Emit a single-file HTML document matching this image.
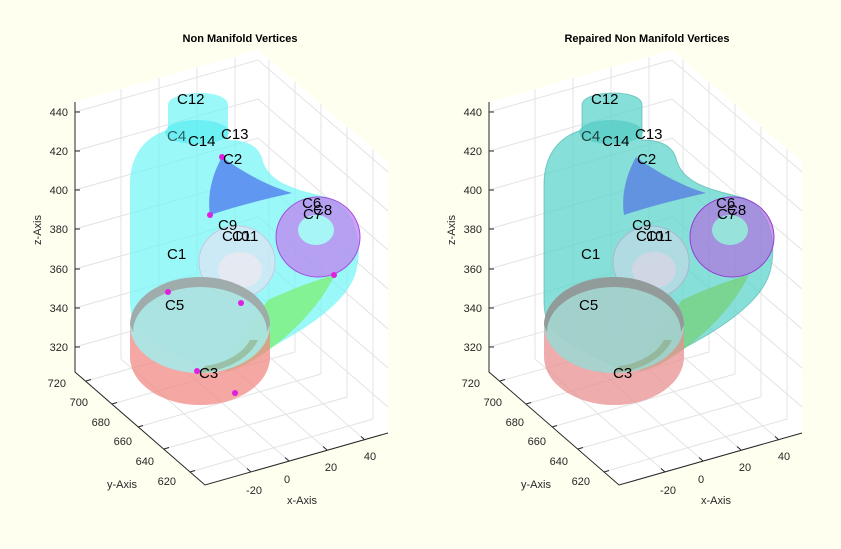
<!DOCTYPE html>
<html><head><meta charset="utf-8"><style>
body{margin:0;background:#fffff0;}
svg{display:block;font-family:"Liberation Sans",sans-serif;}
.t{font-size:11px;fill:#262626;}
.lab{font-size:15px;fill:#000;}
</style></head><body>
<svg width="841" height="549" viewBox="0 0 841 549">
<defs>
<g id="axes">
<polygon points="75,102 258,50 388,162 388,433 205,485 75,372" fill="#fff"/>
<g stroke="#e3e3e3" stroke-width="1" fill="none">
<path d="M75,112 L258,60 L388,172 M75,151 L258,99 L388,211 M75,190 L258,138 L388,250 M75,229 L258,177 L388,289 M75,269 L258,217 L388,329 M75,308 L258,256 L388,368 M75,347 L258,295 L388,407"/>
<path d="M121,89 L121,359 M159,78 L159,348 M197,67 L197,337 M235,57 L235,327"/>
<path d="M269,60 L269,330 M295,82 L295,352 M321,104 L321,374 M347,127 L347,397 M373,149 L373,419"/>
<path d="M251,472 L121,359 M289,461 L159,348 M327,450 L197,337 M365,440 L235,327"/>
<path d="M86,381 L269,330 M112,404 L295,352 M138,427 L321,374 M164,449 L347,397 M190,472 L373,419"/>
</g>
<g stroke="#262626" stroke-width="1" fill="none">
<path d="M75,102 L75,372 L205,485 L388,433"/>
<path d="M75,112h5M75,151h5M75,190h5M75,229h5M75,269h5M75,308h5M75,347h5"/>
<path d="M86,381l5,-1.5M112,404l5,-1.5M138,427l5,-1.5M164,449l5,-1.5M190,472l5,-1.5"/>
<path d="M251,472l-4,-3.5M289,461l-4,-3.5M327,450l-4,-3.5M365,440l-4,-3.5"/>
</g>
<g class="t" text-anchor="end">
<text x="68" y="116">440</text><text x="68" y="155">420</text><text x="68" y="194">400</text><text x="68" y="233">380</text><text x="68" y="273">360</text><text x="68" y="312">340</text><text x="68" y="351">320</text>
<text x="66" y="387">720</text><text x="88" y="406">700</text><text x="110" y="426">680</text><text x="132" y="445">660</text><text x="154" y="465">640</text><text x="176" y="485">620</text>
</g>
<g class="t" text-anchor="middle">
<text x="254" y="494">-20</text><text x="287" y="483">0</text><text x="331" y="471">20</text><text x="370" y="460">40</text>
<text x="122" y="488">y-Axis</text><text x="302" y="504">x-Axis</text>
<text transform="translate(41,230) rotate(-90)">z-Axis</text>
</g>
</g>
</defs>

<use href="#axes"/>
<use href="#axes" x="414"/>

<text x="240" y="42" text-anchor="middle" style="font-size:11px;font-weight:bold">Non Manifold Vertices</text>
<text x="647" y="42" text-anchor="middle" style="font-size:11px;font-weight:bold">Repaired Non Manifold Vertices</text>

<!-- LEFT PLOT shapes -->
<g>
<path d="M130,185 C130,150 150,135 168,130 L168,105 C168,90 228,88 228,105 L228,140 C245,140 258,145 262,158 C268,185 300,190 330,198 C362,212 362,255 355,275 C345,305 300,333 262,352 C240,362 220,372 210,372 L150,340 C135,330 130,320 130,300 Z" fill="#6ff5f7" fill-opacity="0.7"/>
<ellipse cx="197" cy="132" rx="32" ry="12" fill="#3ee8ee" fill-opacity="0.5"/>
<path d="M222,157 C212,175 207,195 210,215 C240,205 270,198 292,193 C265,185 240,170 222,157 Z" fill="#5a8cf0" fill-opacity="0.9"/>
<path d="M335,275 C320,305 290,340 245,365 L225,372 C235,340 260,312 268,300 C290,290 315,280 335,275 Z" fill="#7df07a" fill-opacity="0.8"/>
<ellipse cx="237" cy="262" rx="38" ry="36" fill="#e6e2f2" fill-opacity="0.65" stroke="#c8c8e0"/>
<ellipse cx="240" cy="270" rx="22" ry="18" fill="#f0e8f0" fill-opacity="0.7"/>
<ellipse cx="318" cy="237" rx="42" ry="40" fill="#c07af0" fill-opacity="0.7" stroke="#a050e0"/>
<ellipse cx="316" cy="230" rx="18" ry="15" fill="#a8f5f5"/>
<path d="M130,355 L130,325 A70,48 0 0 1 270,325 L270,357 A70,48 0 0 1 130,357 Z" fill="#f28a86" fill-opacity="0.75"/>
<ellipse cx="200" cy="325" rx="70" ry="48" fill="#9ef3f0" fill-opacity="0.8"/>
<path d="M130,325 A70,48 0 0 1 270,325 L267,332 A67,45 0 0 0 133,332 Z" fill="#9a9494" fill-opacity="0.7"/>
<path d="M258,340 A70,48 0 0 1 200,373 L205,366 A60,40 0 0 0 250,340 Z" fill="#8aa070" fill-opacity="0.5"/>
<g fill="#e020e0">
<circle cx="222" cy="157" r="3"/><circle cx="210" cy="215" r="3"/><circle cx="334" cy="275" r="3"/><circle cx="241" cy="303" r="3"/><circle cx="168" cy="292" r="3"/><circle cx="197" cy="371" r="3"/><circle cx="235" cy="393" r="3"/>
</g>
<g class="lab">
<text x="177" y="104">C12</text><text x="167" y="141" fill-opacity="0.6">C4</text><text x="188" y="146">C14</text><text x="221" y="139">C13</text><text x="223" y="164">C2</text>
<text x="302" y="208">C6</text><text x="313" y="215">C8</text><text x="303" y="219">C7</text>
<text x="218" y="230">C9</text><text x="222" y="241">C10</text><text x="232" y="241">C11</text>
<text x="167" y="259">C1</text><text x="165" y="310">C5</text><text x="199" y="378">C3</text>
</g>
</g>

<!-- RIGHT PLOT shapes -->
<g transform="translate(414,0)">
<path d="M130,185 C130,150 150,135 168,130 L168,105 C168,90 228,88 228,105 L228,140 C245,140 258,145 262,158 C268,185 300,190 330,198 C362,212 362,255 355,275 C345,305 300,333 262,352 C240,362 220,372 210,372 L150,340 C135,330 130,320 130,300 Z" fill="#5fd4cc" fill-opacity="0.75" stroke="#4bb0a8" stroke-opacity="0.6"/>
<ellipse cx="197" cy="132" rx="32" ry="12" fill="#49c8c0" fill-opacity="0.6"/>
<path d="M222,157 C212,175 207,195 210,215 C240,205 270,198 292,193 C265,185 240,170 222,157 Z" fill="#5a86e0" fill-opacity="0.85"/>
<path d="M335,275 C320,305 290,340 245,365 L225,372 C235,340 260,312 268,300 C290,290 315,280 335,275 Z" fill="#76d07a" fill-opacity="0.75"/>
<ellipse cx="237" cy="262" rx="38" ry="36" fill="#c8d8e6" fill-opacity="0.65" stroke="#a8b8d0"/>
<ellipse cx="240" cy="270" rx="22" ry="18" fill="#dcd6e6" fill-opacity="0.7"/>
<ellipse cx="318" cy="237" rx="42" ry="40" fill="#b070e0" fill-opacity="0.7" stroke="#9040d0"/>
<ellipse cx="316" cy="230" rx="18" ry="15" fill="#98e2dc"/>
<path d="M130,355 L130,325 A70,48 0 0 1 270,325 L270,357 A70,48 0 0 1 130,357 Z" fill="#e89090" fill-opacity="0.75"/>
<ellipse cx="200" cy="325" rx="70" ry="48" fill="#96dcd6" fill-opacity="0.8"/>
<path d="M130,325 A70,48 0 0 1 270,325 L267,332 A67,45 0 0 0 133,332 Z" fill="#8a8484" fill-opacity="0.7"/>
<path d="M258,340 A70,48 0 0 1 200,373 L205,366 A60,40 0 0 0 250,340 Z" fill="#8aa070" fill-opacity="0.5"/>
<g class="lab">
<text x="177" y="104">C12</text><text x="167" y="141" fill-opacity="0.7">C4</text><text x="188" y="146">C14</text><text x="221" y="139">C13</text><text x="223" y="164">C2</text>
<text x="302" y="208">C6</text><text x="313" y="215">C8</text><text x="303" y="219">C7</text>
<text x="218" y="230">C9</text><text x="222" y="241">C10</text><text x="232" y="241">C11</text>
<text x="167" y="259">C1</text><text x="165" y="310">C5</text><text x="199" y="378">C3</text>
</g>
</g>
</svg>
</body></html>
